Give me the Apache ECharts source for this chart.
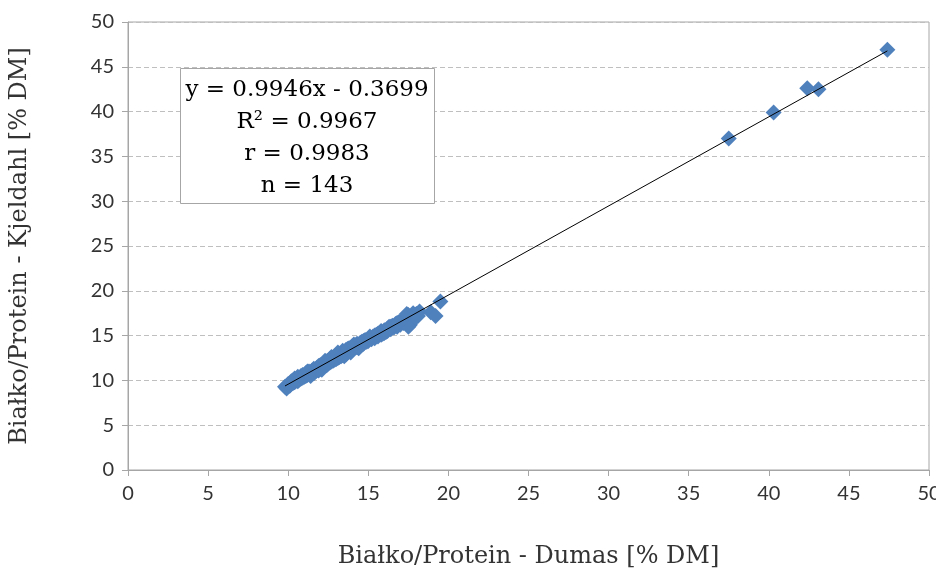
<!DOCTYPE html>
<html>
<head>
<meta charset="utf-8">
<script src="https://cdn.jsdelivr.net/npm/echarts@6/dist/echarts.min.js"></script>
<style>
  html, body { margin: 0; padding: 0; background: #fff; }
  #chart { width: 936px; height: 574px; }
</style>
</head>
<body>
<div id="chart"></div>
<script>
// Dumas (x) vs Kjeldahl (y), % DM
const dumas = [
  9.8, 9.9, 10.0, 10.1, 10.2, 10.3, 10.4, 10.4, 10.5, 10.6,
  10.7, 10.8, 10.8, 10.9, 11.0, 11.1, 11.1, 11.2, 11.3, 11.4,
  11.5, 11.5, 11.6, 11.7, 11.8, 11.8, 11.9, 12.0, 12.0, 12.1,
  12.2, 12.2, 12.3, 12.4, 12.4, 12.5, 12.6, 12.6, 12.7, 12.8,
  12.8, 12.9, 13.0, 13.0, 13.1, 13.2, 13.2, 13.3, 13.4, 13.4,
  13.5, 13.6, 13.6, 13.7, 13.8, 13.8, 13.9, 14.0, 14.0, 14.1,
  14.2, 14.3, 14.3, 14.4, 14.5, 14.6, 14.6, 14.7, 14.8, 14.9,
  15.0, 15.0, 15.1, 15.2, 15.3, 15.4, 15.4, 15.5, 15.6, 15.7,
  15.8, 15.8, 15.9, 16.0, 16.1, 16.2, 16.2, 16.3, 16.4, 16.5,
  16.6, 16.7, 16.8, 16.9, 17.0, 17.1, 17.2, 17.3, 17.4, 17.5,
  17.6, 17.7, 17.8, 17.9, 18.0, 18.2, 18.9, 19.2, 19.5, 17.5,
  10.3, 10.6, 10.9, 11.2, 11.4, 11.6, 11.9, 12.1, 12.3, 12.5,
  12.7, 12.9, 13.1, 13.3, 13.5, 13.7, 13.9, 14.1, 14.4, 14.7,
  15.1, 15.6, 16.0, 16.4, 16.8, 17.2, 17.4, 18.1,
  37.5, 40.3, 42.4, 43.1, 47.4
];
const kjeldahl = [
  9.3, 9.1, 9.6, 9.4, 9.9, 9.7, 10.2, 9.8, 10.0, 10.4,
  10.1, 10.5, 10.2, 10.6, 10.4, 10.8, 10.5, 10.6, 11.0, 10.8,
  11.1, 10.9, 11.3, 11.0, 11.4, 11.2, 11.6, 11.3, 11.7, 11.5,
  11.9, 11.6, 11.8, 12.1, 11.7, 12.2, 12.0, 12.4, 12.1, 12.5,
  12.2, 12.6, 12.4, 12.8, 12.5, 12.9, 12.6, 13.0, 12.8, 13.3,
  13.0, 13.4, 12.9, 13.2, 13.6, 13.3, 13.5, 13.8, 13.4, 13.6,
  13.9, 13.7, 14.1, 13.9, 14.2, 14.0, 14.3, 14.1, 14.5, 14.3,
  14.6, 14.4, 14.7, 14.6, 14.9, 14.7, 15.0, 15.1, 14.9, 15.3,
  15.1, 15.5, 15.2, 15.6, 15.4, 15.8, 15.5, 16.0, 15.7, 16.1,
  15.9, 16.3, 16.0, 16.5, 16.2, 16.7, 16.4, 17.0, 16.6, 17.3,
  16.2, 17.1, 17.5, 16.9, 17.4, 17.7, 17.6, 17.2, 18.8, 16.0,
  10.0, 9.9, 10.3, 11.0, 10.5, 10.8, 11.1, 11.2, 12.2, 11.9,
  12.6, 12.3, 13.1, 12.7, 12.7, 13.5, 13.1, 14.0, 13.6, 14.4,
  14.9, 15.2, 15.3, 16.0, 16.4, 16.9, 17.4, 17.2,
  37.0, 39.9, 42.6, 42.5, 46.9
];

// regression shown in the box
const slope = 0.9946;
const intercept = -0.3699;
const statLines = ['y = 0.9946x - 0.3699', 'R² = 0.9967', 'r = 0.9983', 'n = 143'];

const points = dumas.map((x, i) => [x, kjeldahl[i]]);
const xMin = Math.min(...dumas), xMax = Math.max(...dumas);
const trend = [[xMin, slope * xMin + intercept], [xMax, slope * xMax + intercept]];

const chart = echarts.init(document.getElementById('chart'));
const tickFont = { fontFamily: 'Lato', fontSize: 20, color: '#333' };
const nameFont = { fontFamily: 'DejaVu Serif', fontSize: 24, color: '#333' };

chart.setOption({
  animation: false,
  grid: {
    left: 128, right: 7, top: 22, bottom: 104, outerBoundsMode: 'none',
    show: true, borderColor: '#a6a6a6', borderWidth: 1
  },
  xAxis: {
    type: 'value', min: 0, max: 50, interval: 5,
    name: 'Białko/Protein - Dumas [% DM]', nameLocation: 'middle', nameGap: 75,
    nameTextStyle: nameFont,
    axisLine: { show: true, lineStyle: { color: '#a6a6a6' } },
    axisTick: { show: true, length: 6, lineStyle: { color: '#a6a6a6' } },
    axisLabel: Object.assign({ margin: 14 }, tickFont),
    splitLine: { show: false }
  },
  yAxis: {
    type: 'value', min: 0, max: 50, interval: 5,
    name: 'Białko/Protein - Kjeldahl [% DM]', nameLocation: 'middle', nameGap: 96,
    nameTextStyle: nameFont,
    axisLine: { show: true, lineStyle: { color: '#a6a6a6' } },
    axisTick: { show: true, length: 6, lineStyle: { color: '#a6a6a6' } },
    axisLabel: Object.assign({ margin: 14 }, tickFont),
    splitLine: { show: true, lineStyle: { color: '#bfbfbf', type: [5, 3] } }
  },
  series: [
    {
      type: 'scatter', data: points, symbol: 'diamond', symbolSize: 16,
      itemStyle: { color: '#4f81bd', opacity: 1 }, z: 2
    },
    {
      type: 'line', data: trend, symbol: 'none',
      lineStyle: { color: '#000', width: 1 }, z: 3
    }
  ],
  graphic: [
    {
      type: 'rect', left: 180, top: 68, z: 10,
      shape: { width: 254, height: 135 },
      style: { fill: '#fff', stroke: '#a6a6a6', lineWidth: 1 }
    },
    {
      type: 'text', x: 307, y: 74, z: 11,
      style: {
        text: statLines.join('\n'), align: 'center',
        font: '23px "DejaVu Serif"', lineHeight: 32, fill: '#000'
      }
    }
  ]
});
</script>
</body>
</html>
